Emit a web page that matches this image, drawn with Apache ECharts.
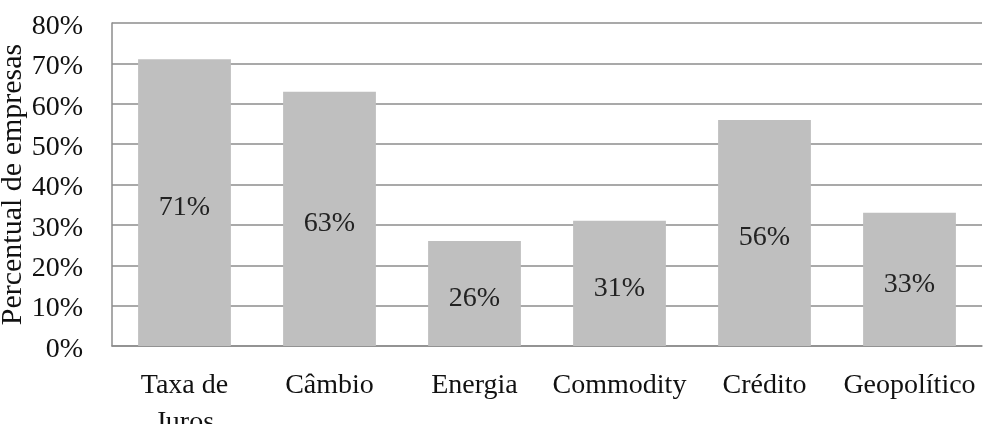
<!DOCTYPE html>
<html>
<head>
<meta charset="utf-8">
<script src="https://cdn.jsdelivr.net/npm/echarts@6/dist/echarts.min.js"></script>
<style>
html,body{margin:0;padding:0;background:#fff;}
#chart{width:984px;height:424px;}
</style>
</head>
<body>
<div id="chart"></div>
<script>
const categories = ['Taxa de\nJuros', 'Câmbio', 'Energia', 'Commodity', 'Crédito', 'Geopolítico'];
const values = [71, 63, 26, 31, 56, 33];
const yTicks = { min: 0, max: 80, interval: 10 };
const yAxisTitle = 'Percentual de empresas';

const font = '"Liberation Serif", "Times New Roman", serif';
const chart = echarts.init(document.getElementById('chart'), null, { renderer: 'canvas' });
chart.setOption({
  animation: false,
  backgroundColor: '#ffffff',
  grid: { left: 112, right: 2, top: 23, bottom: 78, containLabel: false, outerBoundsMode: 'none' },
  xAxis: {
    type: 'category',
    data: categories,
    axisLine: { show: true, lineStyle: { color: '#8c8c8c', width: 1.5 } },
    axisTick: { show: false },
    axisLabel: { margin: 21, fontFamily: font, fontSize: 28, color: '#111', lineHeight: 37, interval: 0 }
  },
  yAxis: {
    type: 'value',
    min: yTicks.min, max: yTicks.max, interval: yTicks.interval,
    name: yAxisTitle,
    nameLocation: 'middle',
    nameGap: 84,
    nameMoveOverlap: false,
    nameTextStyle: { fontFamily: font, fontSize: 30, color: '#111' },
    axisLine: { show: true, lineStyle: { color: '#8c8c8c', width: 1.5 } },
    axisTick: { show: false },
    splitLine: { show: true, lineStyle: { color: '#8c8c8c', width: 1.5 } },
    axisLabel: {
      margin: 29, fontFamily: font, fontSize: 28, color: '#111',
      formatter: v => '{t|' + v + '%}',
      rich: { t: { fontFamily: font, fontSize: 28, color: '#111', padding: [7, 0, 0, 0] } }
    }
  },
  series: [{
    type: 'bar',
    data: values,
    barWidth: '64%',
    itemStyle: { color: '#bfbfbf' },
    label: {
      show: true,
      position: 'inside',
      offset: [0, 5],
      fontFamily: font,
      fontSize: 28,
      color: '#222',
      formatter: p => p.value + '%'
    }
  }]
});
</script>
</body>
</html>
